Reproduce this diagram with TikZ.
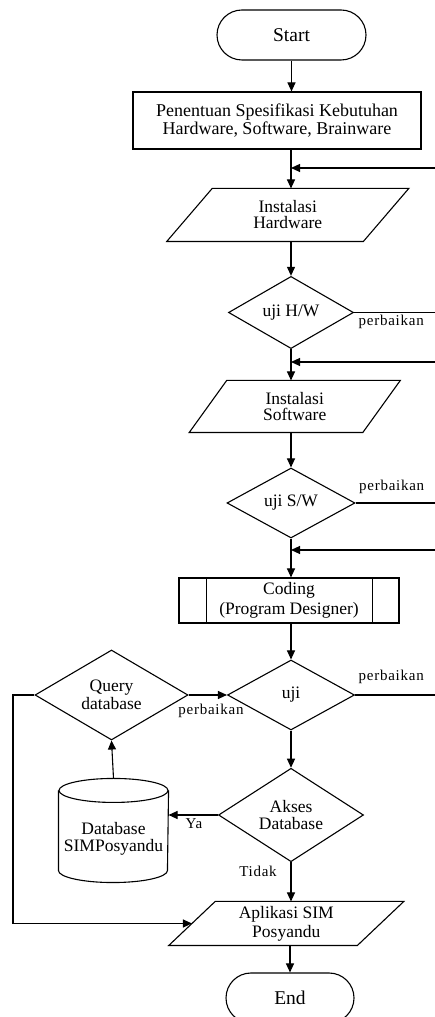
\documentclass[tikz,border=0pt]{standalone}
\usepackage{fontspec}
\setmainfont{Liberation Serif}
\newfontfamily\lblfont{Liberation Serif}[LetterSpace=5]
\usetikzlibrary{shapes.geometric,arrows.meta}

\begin{document}
\begin{tikzpicture}[x=1pt,y=1pt,
  line width=1.1pt,
  every node/.style={font=\fontsize{17.5}{18}\selectfont, align=center, inner sep=0pt},
  term/.style={draw, rectangle, rounded corners=25pt, minimum width=#1, minimum height=50pt,
               font=\fontsize{19.5}{20}\selectfont},
  procbox/.style 2 args={draw, rectangle, minimum width=#1, minimum height=#2},
  decision/.style 2 args={draw, diamond, minimum width=#1, minimum height=#2},
  iobox/.style 2 args={rectangle, minimum width=#1, minimum height=#2},
  arr/.style={-{Triangle[length=9pt,width=8pt]}},
  lbl/.style={font=\lblfont\fontsize{15}{16}\selectfont}
]
\useasboundingbox (0,0) rectangle (435,1017);
\fill[white] (0,0) rectangle (435,1017);

% helper coordinates: main axis, outer return lines
\coordinate (ax) at (291,0);
\coordinate (rx) at (447,0);
\coordinate (lx) at (13,0);

% ---- nodes ----
\node[term=149pt] (start) at (291.5,982) {Start};
\node[procbox={288pt}{57pt}, font=\fontsize{18}{18}\selectfont] (proc) at (277,896.5)
  {Penentuan Spesifikasi Kebutuhan\\Hardware, Software, Brainware};

\node[iobox={195.5pt}{52pt}, font=\fontsize{17.5}{16}\selectfont] (ih) at (287.75,802) {Instalasi\\Hardware};
\draw ([xshift=22.75pt]ih.north west) -- ([xshift=22.75pt]ih.north east)
   -- ([xshift=-22.75pt]ih.south east) -- ([xshift=-22.75pt]ih.south west) -- cycle;

\node[decision={125pt}{70pt}] (uhw) at (291,704.5) {uji H/W};

\node[iobox={172.5pt}{51pt}, font=\fontsize{17.5}{16}\selectfont] (is) at (294.75,610.5) {Instalasi\\Software};
\draw ([xshift=18.75pt]is.north west) -- ([xshift=18.75pt]is.north east)
   -- ([xshift=-18.75pt]is.south east) -- ([xshift=-18.75pt]is.south west) -- cycle;

\node[decision={128pt}{70pt}] (usw) at (291,514) {uji S/W};

\node[procbox={220pt}{45pt}, font=\fontsize{17.5}{20}\selectfont] (code) at (289,416.5) {Coding\\(Program Designer)};
\draw ([xshift=28pt]code.north west) -- ([xshift=28pt]code.south west);
\draw ([xshift=-27pt]code.north east) -- ([xshift=-27pt]code.south east);

\node[decision={127pt}{70pt}] (uji) at (291,322) {uji};
\node[decision={153pt}{76pt}] (query) at (111.5,322) {Query\\database};

\node[decision={145pt}{70pt}, font=\fontsize{17.5}{17}\selectfont] (akses) at (291,202) {Akses\\Database};

% database cylinder
\node[iobox={109pt}{103pt}] (db) at (113.5,186.5) {};
\draw ([yshift=-12pt]db.north west) -- ([yshift=12pt]db.south west)
   arc[start angle=180, end angle=360, x radius=54.5pt, y radius=12pt]
   -- ([yshift=-12pt]db.north east);
\draw ([yshift=-12pt]db.north) ellipse [x radius=54.5pt, y radius=12pt];
\node[font=\fontsize{17.5}{17}\selectfont] (dbtxt) at ([yshift=-8pt]db.center) {Database\\SIMPosyandu};

\node[iobox={187.5pt}{43pt}, font=\fontsize{17.5}{19}\selectfont] (app) at (286.25,93.5) {Aplikasi SIM\\Posyandu};
\draw ([xshift=23.25pt]app.north west) -- ([xshift=23.25pt]app.north east)
   -- ([xshift=-23.25pt]app.south east) -- ([xshift=-23.25pt]app.south west) -- cycle;

\node[term=128pt] (endn) at (290,19) {End};

% ---- return points on the main axis ----
\coordinate (fb1) at (291,849);
\coordinate (fb2) at (291,655);
\coordinate (fb3) at (291,467);

% ---- main flow ----
\draw[arr] (start.south) -- (start.south |- proc.north);
\draw[arr] (proc.south -| ax) -- (ih.north -| ax);
\draw[arr] (ih.south -| ax) -- (uhw.north);
\draw[arr] (uhw.south) -- (is.north -| ax);
\draw[arr] (is.south -| ax) -- (usw.north);
\draw[arr] (usw.south) -- (code.north -| ax);
\draw[arr] (code.south -| ax) -- (uji.north);
\draw[arr] (uji.south) -- (akses.north);
\draw[arr] (akses.south) -- (app.north -| ax);
\draw[arr] (app.south -| endn.north) -- (endn.north);

% ---- repair loops on the right ----
\draw[arr] (uhw.east) -- (uhw.east -| rx) |- (fb1);
\draw[arr] (usw.east) -- (usw.east -| rx) |- (fb2);
\draw[arr] (uji.east) -- (uji.east -| rx) |- (fb3);

\node[lbl, anchor=north west] (p1) at ([xshift=4pt,yshift=-2pt]uhw.east) {perbaikan};
\node[lbl, anchor=south west] (p2) at ([xshift=3pt,yshift=9pt]usw.east) {perbaikan};
\node[lbl, anchor=south west] (p3) at ([xshift=3pt,yshift=11pt]uji.east) {perbaikan};

% ---- database branch ----
\draw[arr] (query.east) -- (uji.west);
\node[lbl] (p4) at (211,306) {perbaikan};
\draw[arr] (akses.west) -- (akses.west -| db.east);
\node[lbl] (ya) at (194,193) {Ya};
\draw[arr] (db.north) -- (query.south);
\node[lbl] (tidak) at (258,146) {Tidak};
\draw[arr] (query.west) -- (query.west -| lx) |- (app.west);

\end{tikzpicture}
\end{document}
